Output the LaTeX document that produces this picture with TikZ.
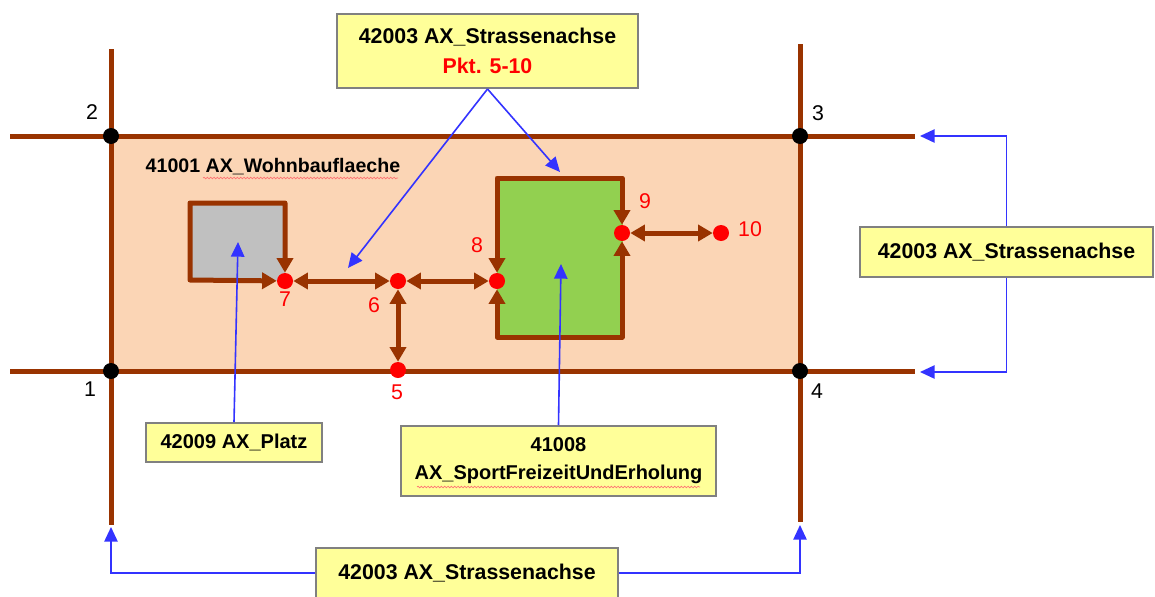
\documentclass[tikz,border=0pt]{standalone}
\usepackage{fontspec}
\setmainfont{Liberation Sans}
\usetikzlibrary{arrows.meta,decorations.pathmorphing}
\definecolor{road}{HTML}{993300}
\definecolor{parcel}{HTML}{FBD5B5}
\definecolor{sport}{HTML}{92D050}
\definecolor{platz}{HTML}{C0C0C0}
\definecolor{boxyellow}{HTML}{FFFF99}
\definecolor{boxgray}{HTML}{808080}
\definecolor{ptrblue}{HTML}{3333FF}
\begin{document}
\begin{tikzpicture}[
    x=0.75pt, y=-0.75pt,
    road/.style={draw=road, line width=3.75pt},
    flow/.style={draw=road, line width=3.75pt, line join=round,
        {Triangle[length=11pt,width=12pt]}-{Triangle[length=11pt,width=12pt]}},
    pkt/.style={circle, fill=red, minimum size=12pt, inner sep=0pt},
    knot/.style={circle, fill=black, minimum size=12pt, inner sep=0pt},
    num/.style={font=\fontsize{16}{16}\selectfont},
    callout/.style={draw=boxgray, line width=1.5pt, fill=boxyellow, align=center,
        inner sep=0pt, font=\bfseries\fontsize{15}{21}\selectfont},
    pointer/.style={draw=ptrblue, line width=1.2pt, -{Triangle[length=11pt,width=10pt]}},
    squiggle/.style={draw=red!55, line width=0.5pt, decorate,
        decoration={snake, amplitude=0.6pt, segment length=2.5pt}}
]
\useasboundingbox (0,0) rectangle (1155,596);

% Parcel and plots
\fill[parcel] (111,136) rectangle (800,371);
\fill[platz] (190,203) rectangle (285,281);
\fill[sport] (497,178) rectangle (623,337);

% Roads
\draw[road] (10,136) -- (915,136);
\draw[road] (10,371) -- (915,371);
\draw[road] (111,49) -- (111,525);
\draw[road] (800,44) -- (800,522);

% Road knots 1-4
\node[knot] (k1) at (111,371) {};
\node[knot] (k2) at (111,136) {};
\node[knot] (k3) at (800,136) {};
\node[knot] (k4) at (800,371) {};
\node[num] (n1) at (90,389) {1};
\node[num] (n2) at (92,112) {2};
\node[num] (n3) at (818,113) {3};
\node[num] (n4) at (817,391) {4};

% Points 5-10
\node[pkt] (p5) at (398,370) {};
\node[pkt] (p6) at (398,281) {};
\node[pkt] (p7) at (285,281) {};
\node[pkt] (p8) at (497,281) {};
\node[pkt] (p9) at (622,233) {};
\node[pkt] (p10) at (721,233) {};
\node[num, red] (n5) at (397,392) {5};
\node[num, red] (n6) at (374,305) {6};
\node[num, red] (n7) at (285,299) {7};
\node[num, red] (n8) at (477,245) {8};
\node[num, red] (n9) at (645,201) {9};
\node[num, red] (n10) at (750,229) {10};

% Axes between the points
\draw[flow] (p7) -- (285,203) -- (190,203) -- (190,280) -- (p7);
\draw[flow] (p7) -- (p6);
\draw[flow] (p6) -- (p8);
\draw[flow] (p6) -- (p5);
\draw[flow] (p8) -- (497,178) -| (p9);
\draw[flow] (p8) -- (497,337) -| (p9);
\draw[flow] (p9) -- (p10);

% Parcel label
\node[anchor=west, font=\bfseries\fontsize{14.7}{16}\selectfont] (wohn) at (141,167) {41001 AX\_Wohnbauflaeche};
\draw[squiggle] (203,178) -- (398,178);

% Callouts
\node[callout, minimum width=225.75pt, minimum height=55.5pt, font=\bfseries\fontsize{16}{23}\selectfont] (callA) at (487.5,51)
    {42003 AX\_Strassenachse\\\textcolor{red}{Pkt. 5-10}};
\node[callout, minimum width=219.75pt, minimum height=37.5pt, font=\bfseries\fontsize{16}{19}\selectfont] (callR) at (1006.5,252) {42003 AX\_Strassenachse};
\node[callout, minimum width=226.5pt, minimum height=37.5pt, font=\bfseries\fontsize{16}{19}\selectfont] (callB) at (467,573) {42003 AX\_Strassenachse};
\node[callout, minimum width=132pt, minimum height=29.25pt] (callP) at (234,442.5) {42009 AX\_Platz};
\node[callout, minimum width=236.25pt, minimum height=52.5pt] (callS) at (558.5,461) {41008\\AX\_SportFreizeitUndErholung};
\draw[squiggle] (417,487) -- (700,487);

% Pointers
\coordinate (tA1) at (348,268);
\coordinate (tA2) at (560,172);
\coordinate (tR3) at (920,136);
\coordinate (tR4) at (920,372);
\coordinate (tB1) at (111,527);
\coordinate (tB4) at (800,525);
\coordinate (tP) at (238,242);
\coordinate (tS) at (561,264);
\draw[pointer] (callA.south) -- (tA1);
\draw[pointer] (callA.south) -- (tA2);
\draw[pointer] (callR.north) |- (tR3);
\draw[pointer] (callR.south) |- (tR4);
\draw[pointer] (callB.west) -| (tB1);
\draw[pointer] (callB.east) -| (tB4);
\draw[pointer] (callP.north) -- (tP);
\draw[pointer] (callS.north) -- (tS);

\end{tikzpicture}
\end{document}
